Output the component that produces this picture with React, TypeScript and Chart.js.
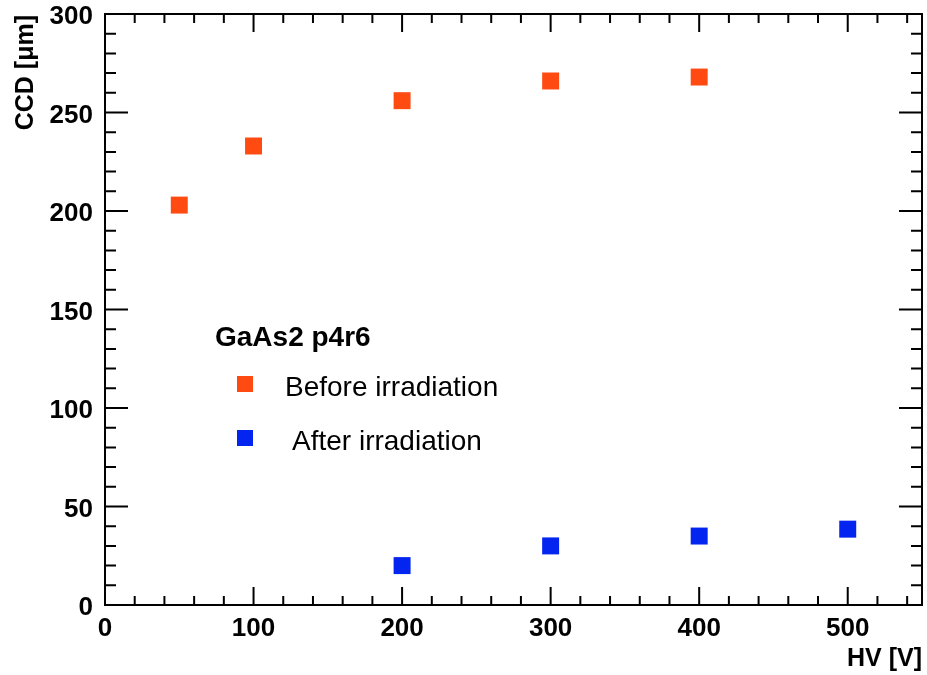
import React, { useEffect, useRef } from "react";
import { Chart, registerables } from "chart.js";

Chart.register(...registerables);

const hvBefore = [50, 100, 200, 300, 400];
const ccdBefore = [203, 233, 256, 266, 268];
const hvAfter = [200, 300, 400, 500];
const ccdAfter = [20, 30, 35, 38.5];

const xTicks = [0, 100, 200, 300, 400, 500];
const yTicks = [0, 50, 100, 150, 200, 250, 300];
const xRange = [0, 550];
const yRange = [0, 300];
const xMinorStep = 20;
const yMinorStep = 10;

const legendTitle = "GaAs2 p4r6";
const seriesNames = ["Before irradiation", "After irradiation"];
const xTitle = "HV [V]";
const yTitle = "CCD [\u03bcm]";

const ORANGE = "#ff4b12";
const BLUE = "#0424f0";
const FONT = "'Liberation Sans', Arial, Helvetica, sans-serif";

const rootPlugin = {
  id: "rootStyle",
  afterDraw(chart: any) {
    const ctx = chart.ctx;
    const { left, right, top, bottom } = chart.chartArea;
    const xs = chart.scales.x;
    const ys = chart.scales.y;
    ctx.save();
    ctx.strokeStyle = "#000";
    ctx.lineWidth = 2;
    ctx.strokeRect(left, top, right - left, bottom - top);
    ctx.beginPath();
    for (let v = xRange[0]; v <= xRange[1] + 1e-6; v += xMinorStep) {
      const px = xs.getPixelForValue(v);
      const major = Math.abs(v % 100) < 1e-6;
      const len = major ? 18 : 9;
      ctx.moveTo(px, bottom);
      ctx.lineTo(px, bottom - len);
      ctx.moveTo(px, top);
      ctx.lineTo(px, top + len);
    }
    for (let v = yRange[0]; v <= yRange[1] + 1e-6; v += yMinorStep) {
      const py = ys.getPixelForValue(v);
      const major = Math.abs(v % 50) < 1e-6;
      const len = major ? 23 : 11;
      ctx.moveTo(left, py);
      ctx.lineTo(left + len, py);
      ctx.moveTo(right, py);
      ctx.lineTo(right - len, py);
    }
    ctx.stroke();

    ctx.fillStyle = "#000";
    ctx.font = `bold 26px ${FONT}`;
    ctx.textAlign = "center";
    ctx.textBaseline = "alphabetic";
    xTicks.forEach((v) => {
      ctx.fillText(String(v), xs.getPixelForValue(v), bottom + 31);
    });
    ctx.textAlign = "right";
    ctx.textBaseline = "middle";
    yTicks.forEach((v) => {
      ctx.fillText(String(v), left - 12, ys.getPixelForValue(v) + 3);
    });

    ctx.font = `bold 25px ${FONT}`;
    ctx.textAlign = "right";
    ctx.textBaseline = "alphabetic";
    ctx.fillText(xTitle, right, bottom + 61);
    ctx.save();
    ctx.translate(33, top + 1);
    ctx.rotate(-Math.PI / 2);
    ctx.textAlign = "right";
    ctx.fillText(yTitle, 0, 0);
    ctx.restore();

    ctx.textAlign = "left";
    ctx.font = `bold 28px ${FONT}`;
    ctx.fillText(legendTitle, 215, 346);
    ctx.font = `28px ${FONT}`;
    const colors = [ORANGE, BLUE];
    const rowY = [384, 438];
    const textX = [285, 292];
    seriesNames.forEach((name, i) => {
      ctx.fillStyle = colors[i];
      ctx.fillRect(237, rowY[i] - 8, 16, 16);
      ctx.fillStyle = "#000";
      ctx.fillText(name, textX[i], rowY[i] + 12);
    });
    ctx.restore();
  },
};

export default function App() {
  const ref = useRef<HTMLCanvasElement | null>(null);
  useEffect(() => {
    document.body.style.margin = "0";
    const canvas = ref.current;
    if (!canvas) return;
    const chart = new Chart(canvas, {
      type: "scatter",
      data: {
        datasets: [
          {
            label: seriesNames[0],
            data: hvBefore.map((x, i) => ({ x, y: ccdBefore[i] })),
            backgroundColor: ORANGE,
            borderColor: ORANGE,
            borderWidth: 0,
            pointStyle: "rect",
            pointRadius: 12,
          },
          {
            label: seriesNames[1],
            data: hvAfter.map((x, i) => ({ x, y: ccdAfter[i] })),
            backgroundColor: BLUE,
            borderColor: BLUE,
            borderWidth: 0,
            pointStyle: "rect",
            pointRadius: 12,
          },
        ],
      },
      options: {
        responsive: false,
        animation: false,
        devicePixelRatio: 1,
        layout: { autoPadding: false, padding: { left: 105, top: 14, right: 5, bottom: 70 } },
        plugins: { legend: { display: false }, tooltip: { enabled: false } },
        scales: {
          x: { type: "linear", min: xRange[0], max: xRange[1], display: false },
          y: { type: "linear", min: yRange[0], max: yRange[1], display: false },
        },
      },
      plugins: [rootPlugin],
    });
    return () => chart.destroy();
  }, []);
  return (
    <div style={{ width: 927, height: 675, background: "#fff", overflow: "hidden" }}>
      <canvas ref={ref} width={927} height={675} style={{ display: "block" }} />
    </div>
  );
}
